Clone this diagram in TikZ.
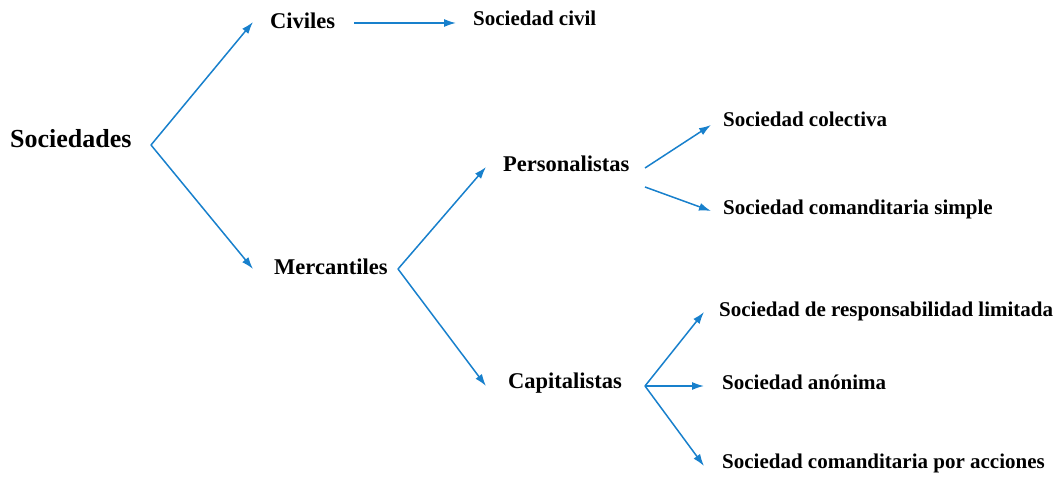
\documentclass[tikz,border=0pt]{standalone}
\usepackage{fontspec}
\setmainfont{Liberation Serif}
\usetikzlibrary{arrows.meta}
\definecolor{linkblue}{RGB}{24,128,204}
\tikzset{
  lbl/.style={anchor=base west, inner sep=0pt, font=\bfseries},
  root/.style={lbl, font=\fontsize{26}{30}\selectfont\bfseries},
  mid/.style={lbl, font=\fontsize{22.5}{26}\selectfont\bfseries},
  leaf/.style={lbl, font=\fontsize{21}{25}\selectfont\bfseries},
  arr/.style={draw=linkblue, line width=1.5pt,
    -{Latex[length=12pt,width=8pt]}, line join=miter}
}
\begin{document}
\begin{tikzpicture}[x=1pt, y=-1pt]
  \useasboundingbox (0,0) rectangle (1053,478);

  % labels
  \node[root] (soc)  at (10,148)  {Sociedades};
  \node[mid]  (civ)  at (270,29)  {Civiles};
  \node[mid]  (mer)  at (274,275) {Mercantiles};
  \node[leaf] (scv)  at (473,26)  {Sociedad civil};
  \node[mid]  (per)  at (503,172) {Personalistas};
  \node[mid]  (cap)  at (508,389) {Capitalistas};
  \node[leaf] (col)  at (723,127) {Sociedad colectiva};
  \node[leaf] (csi)  at (723,215) {Sociedad comanditaria simple};
  \node[leaf] (srl)  at (719,317) {Sociedad de responsabilidad limitada};
  \node[leaf] (ano)  at (722,390) {Sociedad an\'onima};
  \node[leaf] (cpa)  at (722,468) {Sociedad comanditaria por acciones};

  % branch points and arrow ends
  \coordinate (fsoc) at (151,145);
  \coordinate (tciv) at (253,22);
  \coordinate (tmer) at (253,269);
  \coordinate (sciv) at (354,23);
  \coordinate (tscv) at (456,23);
  \coordinate (fmer) at (398,269);
  \coordinate (tper) at (486,167);
  \coordinate (tcap) at (486,386);
  \coordinate (sper1) at (645,168);
  \coordinate (tcol) at (711,125);
  \coordinate (sper2) at (645,187);
  \coordinate (tcsi) at (711,211);
  \coordinate (fcap) at (645,386);
  \coordinate (tsrl) at (704,312);
  \coordinate (tano) at (704,386);
  \coordinate (tcpa) at (704,466);

  % connectors
  \draw[arr] (fsoc) -- (tciv);
  \draw[arr] (fsoc) -- (tmer);
  \draw[arr] (sciv) -- (tscv);
  \draw[arr] (fmer) -- (tper);
  \draw[arr] (fmer) -- (tcap);
  \draw[arr] (sper1) -- (tcol);
  \draw[arr] (sper2) -- (tcsi);
  \draw[arr] (fcap) -- (tsrl);
  \draw[arr] (fcap) -- (tano);
  \draw[arr] (fcap) -- (tcpa);
\end{tikzpicture}
\end{document}
